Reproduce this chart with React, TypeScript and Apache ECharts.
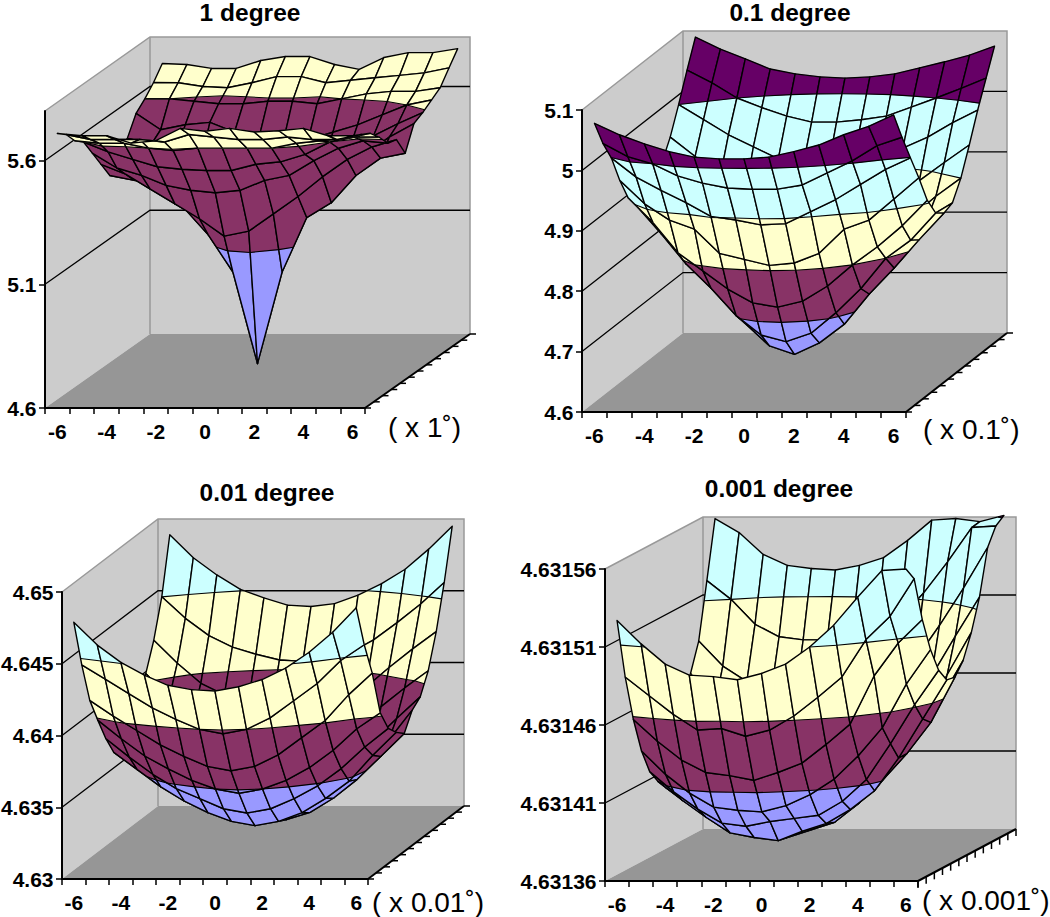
import React, { useEffect, useRef } from "react";
import * as echarts from "echarts";

const categories = ["-6","-5","-4","-3","-2","-1","0","1","2","3","4","5","6"];
const bandColors = ["#9999FF", "#883366", "#FFFFCC", "#CCFFFF", "#660066"];

const ticks1 = [4.6, 5.1, 5.6];
const levels1 = [4.6, 5.1, 5.6, 6.1];
const z1 = [
  [5.709,5.70,5.70,5.67,5.68,5.73,5.718,5.73,5.715,5.72,5.73,5.70,5.70],
  [5.68,5.66,5.66,5.66,5.65,5.68,5.67,5.66,5.66,5.67,5.66,5.66,5.68],
  [5.63,5.62,5.62,5.60,5.59,5.60,5.60,5.60,5.60,5.62,5.63,5.64,5.66],
  [5.60,5.56,5.53,5.50,5.49,5.485,5.485,5.51,5.52,5.55,5.60,5.62,5.62],
  [5.53,5.47,5.44,5.40,5.38,5.37,5.38,5.42,5.44,5.50,5.55,5.58,5.57],
  [5.46,5.42,5.36,5.30,5.24,5.17,5.19,5.26,5.33,5.41,5.48,5.53,5.56],
  [5.39,5.37,5.35,5.26,5.15,5.00,4.63,5.00,5.22,5.28,5.39,5.46,5.48],
  [5.46,5.42,5.38,5.30,5.24,5.19,5.17,5.23,5.31,5.38,5.45,5.52,5.575],
  [5.49,5.47,5.43,5.40,5.36,5.34,5.34,5.37,5.40,5.44,5.50,5.55,5.594],
  [5.566,5.50,5.52,5.53,5.49,5.47,5.46,5.46,5.49,5.52,5.56,5.60,5.62],
  [5.60,5.60,5.59,5.58,5.58,5.59,5.59,5.58,5.60,5.62,5.63,5.63,5.645],
  [5.641,5.64,5.625,5.62,5.64,5.665,5.665,5.64,5.65,5.66,5.67,5.68,5.70],
  [5.693,5.689,5.673,5.673,5.705,5.721,5.721,5.689,5.669,5.717,5.737,5.737,5.753],
];

const ticks2 = [4.6, 4.7, 4.8, 4.9, 5, 5.1];
const levels2 = [4.6, 4.7, 4.8, 4.9, 5, 5.2];
const z2 = [
  [5.078,5.059,5.044,5.031,5.022,5.019,5.019,5.022,5.031,5.042,5.059,5.073,5.092],
  [5.034,5.012,5.000,4.980,4.968,4.960,4.958,4.958,4.965,4.985,5.005,5.030,5.044],
  [4.999,4.967,4.945,4.925,4.902,4.896,4.888,4.890,4.910,4.930,4.955,4.980,4.999],
  [4.951,4.912,4.885,4.870,4.830,4.820,4.810,4.814,4.830,4.870,4.885,4.920,4.955],
  [4.911,4.870,4.820,4.790,4.760,4.737,4.730,4.740,4.765,4.800,4.830,4.865,4.907],
  [4.887,4.840,4.790,4.750,4.705,4.673,4.662,4.676,4.710,4.750,4.800,4.830,4.875],
  [4.864,4.820,4.781,4.733,4.682,4.644,4.630,4.649,4.680,4.730,4.773,4.820,4.864],
  [4.885,4.850,4.810,4.770,4.730,4.680,4.665,4.690,4.740,4.780,4.810,4.845,4.870],
  [4.925,4.880,4.835,4.790,4.755,4.738,4.735,4.742,4.765,4.800,4.835,4.870,4.900],
  [4.957,4.925,4.890,4.860,4.830,4.815,4.810,4.815,4.830,4.860,4.885,4.915,4.944],
  [5.000,4.975,4.950,4.930,4.910,4.900,4.895,4.900,4.910,4.928,4.946,4.970,4.991],
  [5.046,5.025,5.000,4.984,4.970,4.960,4.960,4.964,4.970,4.985,5.000,5.016,5.033],
  [5.090,5.070,5.054,5.037,5.029,5.024,5.022,5.024,5.029,5.039,5.049,5.060,5.075],
];

const ticks3 = [4.63, 4.635, 4.64, 4.645, 4.65];
const levels3 = [4.63, 4.635, 4.64, 4.645, 4.65];
const z3 = [
  [4.6479,4.6463,4.6451,4.6442,4.6435,4.6432,4.6431,4.6434,4.6439,4.6447,4.6458,4.6472,4.6489],
  [4.6445,4.6435,4.6425,4.6415,4.6407,4.6400,4.6397,4.6400,4.6408,4.6420,4.6432,4.6448,4.6459],
  [4.6416,4.6405,4.6395,4.6385,4.6377,4.6370,4.6367,4.6370,4.6378,4.6390,4.6402,4.6420,4.6435],
  [4.6398,4.6385,4.6373,4.6364,4.6356,4.6350,4.6347,4.6350,4.6356,4.6365,4.6377,4.6392,4.6403],
  [4.6381,4.6368,4.6356,4.6346,4.6339,4.6332,4.6329,4.6332,4.6339,4.6348,4.6360,4.6375,4.6388],
  [4.6367,4.6355,4.6343,4.6333,4.6325,4.6319,4.6316,4.6319,4.6325,4.6335,4.6347,4.6365,4.6381],
  [4.6362,4.6350,4.6338,4.6328,4.6320,4.6316,4.6314,4.6316,4.6321,4.6331,4.6344,4.6360,4.6376],
  [4.6367,4.6355,4.6343,4.6333,4.6325,4.6319,4.6316,4.6319,4.6326,4.6336,4.6349,4.6367,4.6388],
  [4.6380,4.6368,4.6356,4.6346,4.6338,4.6333,4.6330,4.6333,4.6339,4.6350,4.6362,4.6378,4.6393],
  [4.6405,4.6388,4.6375,4.6365,4.6357,4.6352,4.6350,4.6352,4.6358,4.6368,4.6382,4.6395,4.6407],
  [4.6424,4.6408,4.6394,4.6386,4.6380,4.6376,4.6375,4.6377,4.6382,4.6391,4.6405,4.6418,4.6430],
  [4.6450,4.6435,4.6423,4.6415,4.6410,4.6406,4.6405,4.6406,4.6411,4.6420,4.6432,4.6445,4.6460],
  [4.6489,4.6473,4.6461,4.6451,4.6445,4.6440,4.6439,4.6441,4.6447,4.6455,4.6465,4.6479,4.6495],
];

const ticks4 = [4.63136, 4.63141, 4.63146, 4.63151, 4.63156];
const levels4 = [4.63136, 4.63141, 4.63146, 4.63151, 4.63156, 4.63161];
const z4 = [
  [4.631527,4.631512,4.631499,4.631492,4.631491,4.631489,4.631493,4.631499,4.631510,4.631524,4.631542,4.631559,4.631560],
  [4.631488,4.631476,4.631464,4.631454,4.631455,4.631450,4.631454,4.631463,4.631475,4.631488,4.631512,4.631527,4.631551],
  [4.631458,4.631444,4.631432,4.631424,4.631422,4.631419,4.631424,4.631430,4.631442,4.631455,4.631486,4.631507,4.631522],
  [4.631435,4.631420,4.631408,4.631399,4.631397,4.631396,4.631400,4.631407,4.631417,4.631432,4.631450,4.631478,4.631500],
  [4.631419,4.631406,4.631395,4.631386,4.631384,4.631387,4.631389,4.631391,4.631400,4.631414,4.631437,4.631462,4.631484],
  [4.631410,4.631398,4.631387,4.631377,4.631374,4.631372,4.631378,4.631383,4.631392,4.631404,4.631425,4.631450,4.631475],
  [4.631403,4.631392,4.631382,4.631376,4.631372,4.631371,4.631376,4.631381,4.631393,4.631408,4.631425,4.631445,4.631474],
  [4.631410,4.631398,4.631388,4.631380,4.631375,4.631374,4.631378,4.631384,4.631398,4.631412,4.631430,4.631455,4.631482],
  [4.631430,4.631417,4.631406,4.631397,4.631392,4.631388,4.631388,4.631394,4.631405,4.631420,4.631442,4.631470,4.631497],
  [4.631468,4.631446,4.631430,4.631420,4.631414,4.631412,4.631412,4.631417,4.631428,4.631444,4.631466,4.631492,4.631517],
  [4.631486,4.631470,4.631460,4.631452,4.631448,4.631446,4.631446,4.631450,4.631460,4.631474,4.631496,4.631520,4.631546],
  [4.631522,4.631510,4.631494,4.631486,4.631484,4.631484,4.631484,4.631488,4.631497,4.631514,4.631534,4.631556,4.631557],
  [4.631559,4.631550,4.631536,4.631529,4.631527,4.631526,4.631529,4.631534,4.631545,4.631558,4.631559,4.631557,4.631561],
];

const FONT = "'Liberation Sans', Arial, Helvetica, sans-serif";

const panels = [
  { title: "1 degree", titleTop: 0, unit: "( x 1˚)", titleX: 250, unitGap: 23, unitDrop: 5,
    x0: 45, y0: 408, w: 320, h: 297, dx: 105, dy: 74, min: 4.6, max: 5.8, ticks: ticks1, levels: levels1, z: z1, tickDir: "h" },
  { title: "0.1 degree", titleTop: 0, unit: "( x 0.1˚)", titleX: 790, unitGap: 17, unitDrop: 3,
    x0: 582, y0: 412, w: 324, h: 302, dx: 101, dy: 79, min: 4.6, max: 5.1, ticks: ticks2, levels: levels2, z: z2, tickDir: "h" },
  { title: "0.01 degree", titleTop: 480, unit: "( x 0.01˚)", titleX: 267, unitGap: 4, unitDrop: 9,
    x0: 62, y0: 879, w: 306, h: 287, dx: 96, dy: 73, min: 4.63, max: 4.65, ticks: ticks3, levels: levels3, z: z3, tickDir: "h" },
  { title: "0.001 degree", titleTop: 476, unit: "( x 0.001˚)", titleX: 779, unitGap: 4, unitDrop: 5,
    x0: 605, y0: 881, w: 313, h: 312, dx: 98, dy: 52, min: 4.63136, max: 4.63156, ticks: ticks4, levels: levels4, z: z4, tickDir: "v" },
];

type P3 = { x: number; y: number; z: number };

function clipZ(poly: P3[], level: number, keepAbove: boolean): P3[] {
  const out: P3[] = [];
  for (let k = 0; k < poly.length; k++) {
    const a = poly[k];
    const b = poly[(k + 1) % poly.length];
    const ina = keepAbove ? a.z >= level : a.z <= level;
    const inb = keepAbove ? b.z >= level : b.z <= level;
    if (ina) out.push(a);
    if (ina !== inb) {
      const t = (level - a.z) / (b.z - a.z);
      out.push({ x: a.x + (b.x - a.x) * t, y: a.y + (b.y - a.y) * t, z: level });
    }
  }
  return out;
}

function contourSegments(poly: P3[], level: number): number[][][] {
  const hits: number[][] = [];
  for (let k = 0; k < poly.length; k++) {
    const a = poly[k];
    const b = poly[(k + 1) % poly.length];
    if ((a.z < level) !== (b.z < level)) {
      const t = (level - a.z) / (b.z - a.z);
      hits.push([a.x + (b.x - a.x) * t, a.y + (b.y - a.y) * t]);
    }
  }
  const segs: number[][][] = [];
  for (let k = 0; k + 1 < hits.length; k += 2) segs.push([hits[k], hits[k + 1]]);
  return segs;
}

function buildOption() {
  const grid: any[] = [], xAxis: any[] = [], yAxis: any[] = [], series: any[] = [], title: any[] = [];
  panels.forEach((p, idx) => {
    grid.push({ left: p.x0, top: p.y0 - p.h, width: p.w, height: p.h, containLabel: false, outerBoundsMode: "none" });
    title.push({
      text: p.title, left: p.titleX, top: p.titleTop, padding: 0, textAlign: "center",
      textStyle: { fontFamily: FONT, fontWeight: "bold", fontSize: 24.5, lineHeight: 24, color: "#000" },
    });
    xAxis.push({
      type: "category", gridIndex: idx, data: categories, boundaryGap: true, z: 2,
      name: p.unit, nameLocation: "end", nameGap: p.unitGap,
      nameTextStyle: { fontFamily: FONT, fontSize: 28, color: "#000", verticalAlign: "top", padding: [p.unitDrop, 0, 0, 0] },
      axisLine: { onZero: false, lineStyle: { color: "#000", width: 2 } },
      axisTick: { show: true, interval: 0, alignWithLabel: false, length: 6, lineStyle: { color: "#000", width: 1.5 } },
      axisLabel: { interval: 1, margin: 13, fontFamily: FONT, fontWeight: "bold", fontSize: 21, color: "#000" },
      splitLine: { show: false },
    });
    yAxis.push({
      type: "value", gridIndex: idx, min: p.min, max: p.max, z: 2,
      axisLine: { show: true, onZero: false, lineStyle: { color: "#000", width: 2 } },
      axisTick: { show: true, length: 6, customValues: p.ticks, lineStyle: { color: "#000", width: 1.5 } },
      axisLabel: {
        customValues: p.ticks, margin: 8.5, fontFamily: FONT, fontWeight: "bold", fontSize: 21, color: "#000",
        formatter: (v: number) => String(+v.toFixed(5)),
      },
      splitLine: { show: false },
    });

    // walls, floor, gridlines, depth axis
    series.push({
      type: "custom", xAxisIndex: idx, yAxisIndex: idx, z: 1, silent: true, clip: false,
      encode: { x: 0, y: 1 },
      data: [[0, p.min]],
      renderItem: (params: any, api: any) => {
        const r = params.coordSys;
        const L = r.x, R = r.x + r.width, T = r.y, B = r.y + r.height;
        const { dx, dy } = p;
        const kids: any[] = [
          { type: "polygon", shape: { points: [[L, B], [L, T], [L + dx, T - dy], [L + dx, B - dy]] }, style: { fill: "#CCCCCC" } },
          { type: "polygon", shape: { points: [[L + dx, B - dy], [L + dx, T - dy], [R + dx, T - dy], [R + dx, B - dy]] }, style: { fill: "#CCCCCC" } },
          { type: "polygon", shape: { points: [[L, B], [L + dx, B - dy], [R + dx, B - dy], [R, B]] }, style: { fill: "#969696" } },
          { type: "polyline", shape: { points: [[L, T], [L + dx, T - dy], [R + dx, T - dy], [R + dx, B - dy]] }, style: { stroke: "#999999", lineWidth: 1.5, fill: "none" } },
          { type: "line", shape: { x1: L + dx, y1: T - dy, x2: L + dx, y2: B - dy }, style: { stroke: "#999999", lineWidth: 1.5 } },
        ];
        p.ticks.forEach((t) => {
          if (t === p.min || t === p.max) return;
          const y = api.coord([0, t])[1];
          kids.push({ type: "polyline", shape: { points: [[L, y], [L + dx, y - dy], [R + dx, y - dy]] }, style: { stroke: "#000", lineWidth: 1.3, fill: "none" } });
        });
        kids.push({ type: "line", shape: { x1: R, y1: B, x2: R + dx, y2: B - dy }, style: { stroke: "#000", lineWidth: 2 } });
        for (let j = 0; j <= 12; j++) {
          const tx = R + (dx * j) / 12, ty = B - (dy * j) / 12;
          kids.push({
            type: "line",
            shape: p.tickDir === "h" ? { x1: tx, y1: ty, x2: tx + 6, y2: ty } : { x1: tx, y1: ty, x2: tx, y2: ty + 7 },
            style: { stroke: "#000", lineWidth: 1.5 },
          });
        }
        return { type: "group", children: kids };
      },
    });

    // surface cells, far row first; within a row the lower x is farther from the viewer
    const cells: number[][] = [];
    for (let j = 11; j >= 0; j--) {
      for (let i = 0; i < 12; i++) {
        cells.push([i, p.z[j][i], j]);
      }
    }
    series.push({
      type: "custom", xAxisIndex: idx, yAxisIndex: idx, z: 3, silent: true, clip: false,
      encode: { x: 0, y: 1 },
      data: cells,
      renderItem: (params: any, api: any) => {
        const [i, , j] = cells[params.dataIndex];
        const pt = (a: number, b: number): P3 => {
          const z = p.z[b][a];
          const c = api.coord([a, z]);
          return { x: c[0] + (p.dx * b) / 12, y: c[1] - (p.dy * b) / 12, z };
        };
        const quad = [pt(i, j), pt(i + 1, j), pt(i + 1, j + 1), pt(i, j + 1)];
        const kids: any[] = [];
        for (let b = 0; b + 1 < p.levels.length; b++) {
          let poly = clipZ(quad, p.levels[b], true);
          if (poly.length) poly = clipZ(poly, p.levels[b + 1], false);
          if (poly.length >= 3) {
            kids.push({
              type: "polygon",
              shape: { points: poly.map((q) => [q.x, q.y]) },
              style: { fill: bandColors[b], stroke: bandColors[b], lineWidth: 0.4 },
            });
          }
        }
        p.levels.forEach((lv) => {
          contourSegments(quad, lv).forEach((s) => {
            kids.push({ type: "polyline", shape: { points: s }, style: { stroke: "#000", lineWidth: 1.1, fill: "none" } });
          });
        });
        kids.push({
          type: "polygon",
          shape: { points: quad.map((q) => [q.x, q.y]) },
          style: { fill: "none", stroke: "#000", lineWidth: 1.4, lineJoin: "round" },
        });
        return { type: "group", children: kids };
      },
    });
  });
  return { animation: false, backgroundColor: "#fff", title, grid, xAxis, yAxis, series };
}

export default function App() {
  const ref = useRef<HTMLDivElement>(null);
  useEffect(() => {
    const chart = echarts.init(ref.current!, undefined, { renderer: "svg" });
    chart.setOption(buildOption() as any);
    return () => chart.dispose();
  }, []);
  return <div ref={ref} style={{ position: "fixed", left: 0, top: 0, width: 1050, height: 917 }} />;
}
